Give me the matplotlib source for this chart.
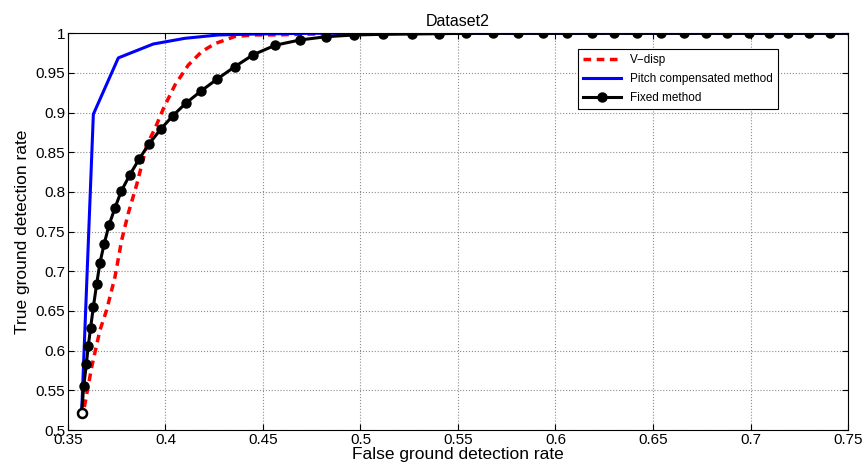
import numpy as np
import matplotlib
matplotlib.use('Agg')
import matplotlib.pyplot as plt

plt.rcParams['font.family'] = ['Liberation Sans', 'DejaVu Sans']

# V-disp (dashed red)
vd_x = [0.3584, 0.3622, 0.3664, 0.3698, 0.3741, 0.3775, 0.3809, 0.3852, 0.3904,
        0.3946, 0.3989, 0.4049, 0.4117, 0.4186, 0.4254, 0.4356, 0.4459, 0.4562,
        0.475, 0.50, 0.60, 0.75]
vd_y = [0.529, 0.580, 0.626, 0.651, 0.693, 0.739, 0.773, 0.809, 0.859,
        0.880, 0.905, 0.935, 0.960, 0.977, 0.987, 0.996, 0.998, 0.998,
        0.999, 1.0, 1.0, 1.0]

# Pitch compensated method (blue)
pc_x = [0.3570, 0.3630, 0.3758, 0.3937, 0.4100, 0.4271, 0.4459, 0.475, 0.55, 0.75]
pc_y = [0.522, 0.898, 0.969, 0.9865, 0.9937, 0.9979, 0.9991, 1.0, 1.0, 1.0]

# Fixed method (black with markers)
fx_x = [0.3570, 0.3581, 0.3594, 0.3604, 0.3616, 0.3630, 0.3647, 0.3664, 0.3686,
        0.3710, 0.3741, 0.3773, 0.3818, 0.3866, 0.3917, 0.3975, 0.4037, 0.4105,
        0.4181, 0.4263, 0.4356, 0.4450, 0.4563, 0.4690, 0.4823, 0.4968, 0.5117,
        0.5263, 0.5404, 0.5541, 0.5678, 0.5809, 0.5934, 0.6061, 0.6186, 0.6302,
        0.6420, 0.6541, 0.6659, 0.6772, 0.6878, 0.6992, 0.7095, 0.7194, 0.7302,
        0.7408, 0.7520]
fx_y = [0.522, 0.556, 0.583, 0.606, 0.629, 0.655, 0.684, 0.711, 0.735,
        0.758, 0.780, 0.801, 0.822, 0.842, 0.861, 0.879, 0.896, 0.912,
        0.927, 0.942, 0.958, 0.973, 0.985, 0.9916, 0.9957, 0.9979, 0.9987,
        0.9991, 0.9995, 1.0, 1.0, 1.0, 1.0, 1.0, 1.0, 1.0,
        1.0, 1.0, 1.0, 1.0, 1.0, 1.0, 1.0, 1.0, 1.0,
        1.0, 1.0]

fig = plt.figure(figsize=(8.64, 4.74), dpi=100)
ax = fig.add_axes([68/864, 1-430/474, 780/864, 396.7/474])

ax.plot(vd_x, vd_y, '--', color=(1, 0, 0), lw=2.5, dashes=(2.2, 1.6), label='V\u2212disp')
ax.plot(pc_x, pc_y, '-', color=(0, 0, 1), lw=2.2, label='Pitch compensated method')
ax.plot(fx_x, fx_y, '-', color='k', lw=2.2, marker='o', ms=6.5, label='Fixed method')
# first point of the fixed method shows as an open ring in the original
ax.plot(fx_x[:1], fx_y[:1], 'o', ms=6.5, mfc='w', mec='k', mew=1.8)

ax.set_xlim(0.35, 0.75)
ax.set_ylim(0.5, 1.0)
xt = np.arange(0.35, 0.7501, 0.05)
yt = np.arange(0.5, 1.0001, 0.05)
ax.set_xticks(xt)
ax.set_yticks(yt)
ax.set_xticklabels(['%g' % round(v, 2) for v in xt])
ax.set_yticklabels(['%g' % round(v, 2) for v in yt])
ax.tick_params(direction='in', top=True, right=True, labelsize=11, length=4, width=0.8, pad=2)
ax.grid(True, ls=':', color='0.55', lw=0.8)
for s in ax.spines.values():
    s.set_linewidth(0.8)

ax.set_xlabel('False ground detection rate', fontsize=12.5, labelpad=0)
ax.set_ylabel('True ground detection rate', fontsize=12.5, labelpad=4)
ax.set_title('Dataset2', fontsize=11.5, pad=5)

leg = ax.legend(loc='upper left', bbox_to_anchor=(0.654, 0.960), fontsize=8.5,
                fancybox=False, edgecolor='k', framealpha=1, borderaxespad=0,
                handlelength=3.2, labelspacing=0.6)
leg.get_frame().set_linewidth(0.8)

fig.savefig('out.png', dpi=100)
